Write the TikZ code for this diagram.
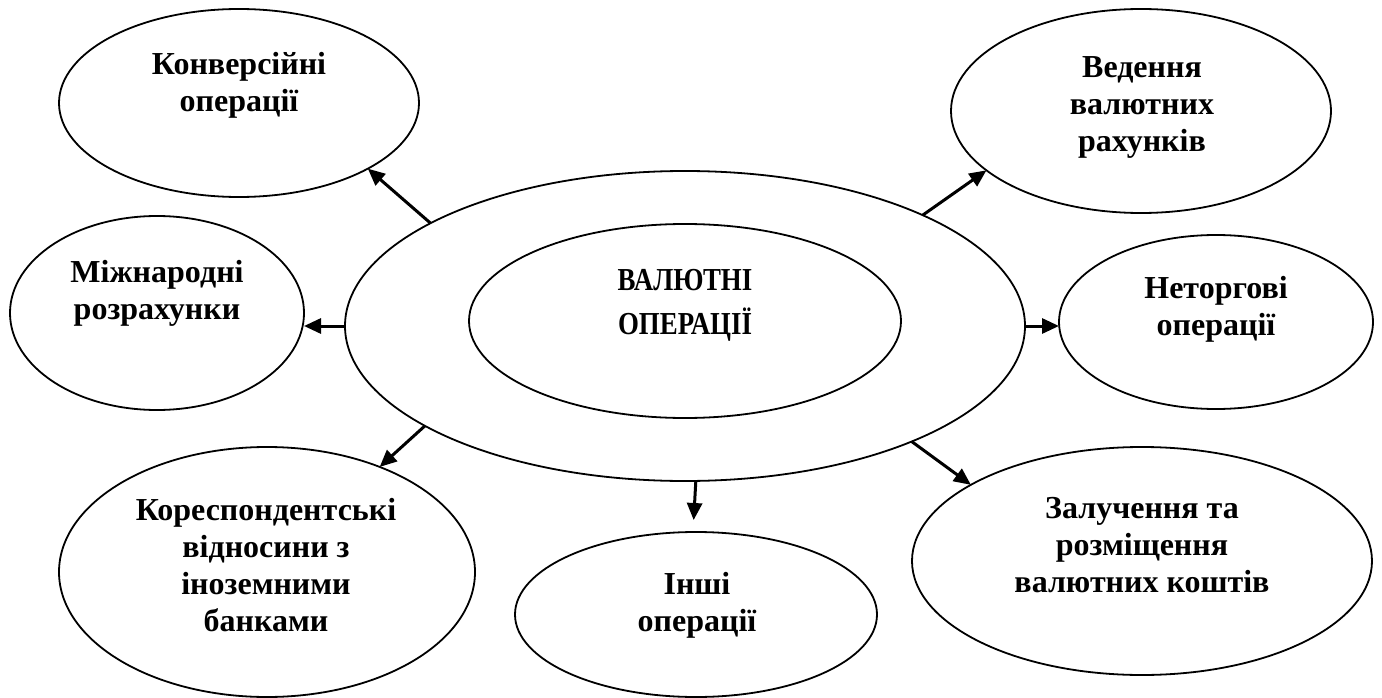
\documentclass[tikz,border=0pt]{standalone}
\usepackage{fontspec}
\usepackage{graphicx}
\setmainfont{Liberation Serif}
\usetikzlibrary{arrows.meta,shapes.geometric}
\newcommand\mylines[1]{\begin{tabular}{@{}c@{}}#1\end{tabular}}
\tikzset{
  ell/.style={draw, ellipse, line width=1.8pt, inner sep=0pt, outer sep=0pt},
  lbl/.style={inner sep=0pt, font=\bfseries\fontsize{32}{37}\selectfont},
  arr/.style={line width=3pt, -{Triangle[length=17pt,width=15pt]}}
}
\begin{document}
\begin{tikzpicture}[x=1pt,y=-1pt]
\useasboundingbox (0,0) rectangle (1382,698);
% ellipses
\node[ell, minimum width=680pt, minimum height=310pt] (big) at (685,326) {};
\node[ell, minimum width=432pt, minimum height=194pt] (inner) at (685,321) {};
\node[ell, minimum width=360pt, minimum height=188pt] (konv) at (239,103) {};
\node[ell, minimum width=380pt, minimum height=204pt] (ved) at (1141,111) {};
\node[ell, minimum width=294pt, minimum height=194pt] (mizh) at (157,313) {};
\node[ell, minimum width=314pt, minimum height=174pt] (net) at (1216,322) {};
\node[ell, minimum width=416pt, minimum height=250pt] (kor) at (267,572) {};
\node[ell, minimum width=362pt, minimum height=165pt] (inshi) at (696,614.5) {};
\node[ell, minimum width=460pt, minimum height=228pt] (zal) at (1142,561) {};
% texts
\node[inner sep=0pt, font=\bfseries\fontsize{32}{44}\selectfont] (tcen) at (685,303.2)
  {\scalebox{0.84}[1]{\mylines{ВАЛЮТНІ\\ОПЕРАЦІЇ}}};
\node[lbl] (tkonv) at (239,86) {\mylines{Конверсійні\\операції}};
\node[lbl] (tved) at (1142,107) {\mylines{Ведення\\валютних\\рахунків}};
\node[lbl] (tmizh) at (157,294) {\mylines{Міжнародні\\розрахунки}};
\node[lbl] (tnet) at (1216,310) {\mylines{Неторгові\\операції}};
\node[lbl] (tkor) at (266,569) {\mylines{Кореспондентські\\відносини з\\іноземними\\банками}};
\node[lbl] (tinshi) at (697,606) {\mylines{Інші\\операції}};
\node[lbl] (tzal) at (1142,548) {\mylines{Залучення та\\розміщення\\валютних коштів}};
% arrows
\draw[arr] (big.158.3) -- (konv.333.4);
\draw[arr] (big.25.3) -- (ved.201.2);
\draw[arr] (big.west) -- (mizh.east |- big.west);
\draw[arr] (big.east) -- (net.west |- big.east);
\draw[arr] (big.201.2) -- (kor.43.7);
\draw[arr, shorten >=12pt] (big.274.1) -- ([xshift=-3pt]inshi.north);
\draw[arr] (big.333.5) -- (zal.156.1);
\end{tikzpicture}
\end{document}
